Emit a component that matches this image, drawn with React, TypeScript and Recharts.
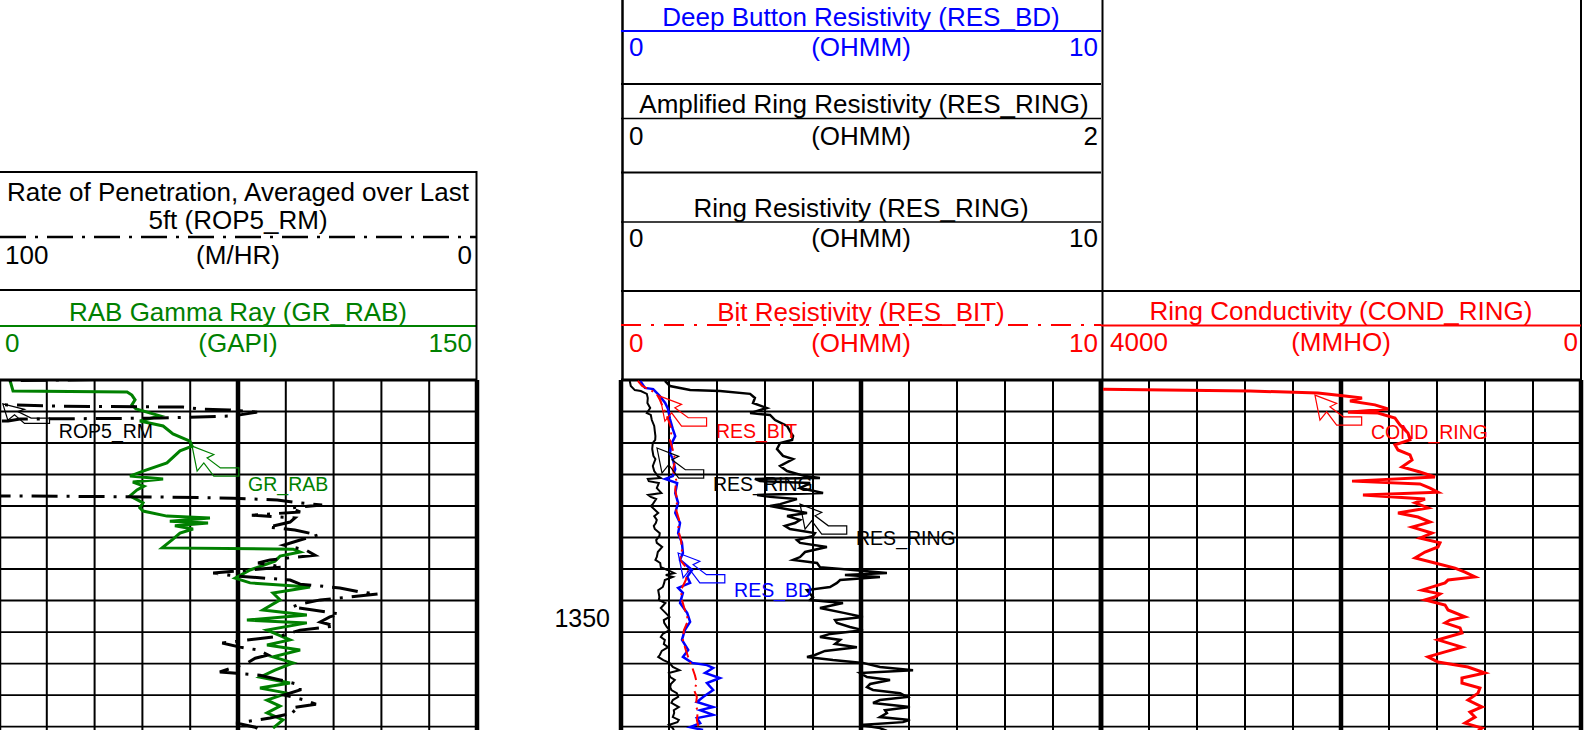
import React from "react";
import { ScatterChart, Scatter, XAxis, YAxis, ReferenceLine, ReferenceDot } from "recharts";

const FONT = "'Liberation Sans', Arial, Helvetica, sans-serif";

// depth window (m) shown in the plot, grid every metre
const DEPTH_TOP = 1343;
const DEPTH_BOTTOM = 1354.11;
const depthGrid = [1343, 1344, 1345, 1346, 1347, 1348, 1349, 1350, 1351, 1352, 1353, 1354];
const depthLabels = [1350];
const gridDivisions = [0, 1, 2, 3, 4, 5, 6, 7, 8, 9, 10];

// [depth, value]
const grRab: [number, number][] = [
  [1343.03, 3.5], [1343.35, 4.4], [1343.38, 40.2], [1343.48, 41.7], [1343.63, 42.7], [1343.79, 41.7],
  [1343.92, 43.0], [1344.14, 50.5], [1344.3, 44.2], [1344.46, 51.5], [1344.71, 54.6], [1344.94, 59.9],
  [1345.1, 60.6], [1345.25, 56.8], [1345.63, 52.7], [1345.89, 45.2], [1346.05, 41.1], [1346.14, 51.5],
  [1346.24, 42.0], [1346.37, 45.5], [1346.49, 43.3], [1346.68, 41.1], [1346.9, 45.2], [1347.06, 44.2],
  [1347.16, 45.2], [1347.32, 52.7], [1347.38, 66.2], [1347.48, 53.6], [1347.54, 65.6], [1347.63, 55.2],
  [1347.73, 60.9], [1347.86, 56.8], [1348.05, 54.6], [1348.33, 51.2], [1348.37, 92.3], [1348.46, 94.5],
  [1348.59, 88.2], [1348.75, 86.6], [1349.03, 78.8], [1349.29, 74.1], [1349.44, 78.8], [1349.57, 97.6],
  [1349.76, 86.0], [1349.98, 88.2], [1350.3, 82.8], [1350.46, 96.6], [1350.62, 77.8], [1350.71, 96.6],
  [1350.94, 84.1], [1351.25, 91.3], [1351.41, 84.1], [1351.57, 94.5], [1351.79, 86.0], [1351.98, 92.3],
  [1352.21, 86.6], [1352.43, 81.9], [1352.62, 91.3], [1352.78, 81.9], [1352.94, 90.4], [1353.16, 84.1],
  [1353.35, 88.2], [1353.57, 84.1], [1353.79, 89.1], [1354.05, 86.0],
];

const rop5Rm: [number, number][] = [
  [1342.95, 60.5], [1343.02, 98.0], [1343.05, 140], [1343.74, 140], [1343.79, 98.3], [1343.83, 87.2],
  [1343.86, 61.5], [1343.92, 58.0], [1343.95, 51.7], [1344.02, 46.0], [1344.14, 51.0], [1344.21, 66.3],
  [1344.24, 95.6], [1344.3, 98.1], [1344.33, 140], [1346.65, 140], [1346.68, 98.3], [1346.71, 68.4],
  [1346.75, 51.0], [1346.81, 41.8], [1346.9, 37.0], [1346.97, 32.4], [1347.06, 39.1], [1347.19, 37.0],
  [1347.29, 47.1], [1347.38, 38.1], [1347.51, 39.1], [1347.67, 43.7], [1347.76, 38.1], [1347.92, 33.3],
  [1348.08, 37.0], [1348.24, 40.4], [1348.4, 35.8], [1348.56, 33.9], [1348.71, 43.3], [1348.81, 45.8],
  [1348.94, 40.6], [1349.13, 55.2], [1349.22, 50.6], [1349.35, 39.1], [1349.48, 37.0], [1349.6, 28.7],
  [1349.73, 24.5], [1349.79, 20.7], [1349.89, 26.6], [1349.98, 32.8], [1350.11, 37.0], [1350.21, 38.7],
  [1350.3, 34.3], [1350.43, 28.7], [1350.52, 30.8], [1350.68, 32.8], [1350.81, 29.7], [1350.94, 37.0],
  [1351.13, 41.2], [1351.35, 53.3], [1351.48, 49.6], [1351.57, 45.8], [1351.73, 43.7], [1351.83, 46.4],
  [1352.02, 48.5], [1352.14, 51.3], [1352.27, 53.8], [1352.37, 45.4], [1352.52, 41.2], [1352.68, 37.0],
  [1352.84, 37.0], [1353.0, 40.4], [1353.16, 36.0], [1353.29, 33.7], [1353.41, 39.1], [1353.56, 38.1],
  [1353.73, 43.3], [1353.89, 50.4], [1354.02, 46.4], [1354.11, 45.4],
];

const resBd: [number, number][] = [
  [1343.03, 0.4], [1343.25, 0.5], [1343.29, 0.67], [1343.51, 0.81], [1343.73, 0.92], [1343.92, 0.98],
  [1344.24, 1.02], [1344.56, 1.08], [1344.78, 1.13], [1345.0, 1.06], [1345.32, 1.02], [1345.51, 1.08],
  [1345.83, 1.13], [1346.05, 1.08], [1346.14, 0.92], [1346.27, 1.17], [1346.59, 1.13], [1346.9, 1.19],
  [1347.22, 1.13], [1347.54, 1.23], [1347.86, 1.19], [1348.17, 1.27], [1348.49, 1.29], [1348.71, 1.23],
  [1349.03, 1.48], [1349.25, 1.38], [1349.44, 1.44], [1349.6, 1.19], [1349.76, 1.29], [1350.08, 1.23],
  [1350.4, 1.38], [1350.68, 1.44], [1350.94, 1.33], [1351.25, 1.27], [1351.57, 1.4], [1351.79, 1.29],
  [1351.98, 1.48], [1352.05, 1.79], [1352.14, 1.92], [1352.3, 1.75], [1352.46, 2.06], [1352.62, 1.79],
  [1352.84, 1.92], [1353.06, 1.71], [1353.22, 1.58], [1353.38, 1.92], [1353.48, 1.65], [1353.63, 1.92],
  [1353.73, 1.58], [1353.89, 1.65], [1354.02, 1.44], [1354.11, 1.71],
];

const resBit: [number, number][] = [
  [1343.03, 0.35], [1343.19, 0.44], [1343.41, 0.73], [1343.63, 0.81], [1343.95, 0.9], [1344.24, 0.98],
  [1344.59, 1.06], [1344.9, 1.02], [1345.22, 1.08], [1345.54, 1.13], [1345.86, 1.08], [1346.17, 1.15],
  [1346.49, 1.13], [1346.81, 1.17], [1347.13, 1.15], [1347.44, 1.21], [1347.76, 1.19], [1348.08, 1.25],
  [1348.4, 1.27], [1348.71, 1.23], [1349.03, 1.4], [1349.35, 1.35], [1349.67, 1.25], [1349.98, 1.27],
  [1350.3, 1.33], [1350.62, 1.4], [1350.94, 1.31], [1351.25, 1.29], [1351.57, 1.35], [1351.89, 1.42],
  [1352.11, 1.48], [1352.37, 1.54], [1352.62, 1.58], [1352.84, 1.52], [1353.06, 1.58], [1353.32, 1.56],
  [1353.54, 1.6], [1353.79, 1.58], [1354.11, 1.63],
];

const resRing: [number, number][] = [
  [1343.03, 0.183], [1343.19, 0.204], [1343.32, 0.288], [1343.35, 0.413], [1343.44, 0.538], [1343.57, 0.558],
  [1343.73, 0.55], [1343.89, 0.608], [1344.05, 0.538], [1344.11, 0.621], [1344.27, 0.642], [1344.46, 0.692],
  [1344.62, 0.704], [1344.78, 0.717], [1344.9, 0.713], [1345.0, 0.663], [1345.19, 0.65], [1345.41, 0.675],
  [1345.51, 0.717], [1345.73, 0.663], [1345.89, 0.692], [1346.05, 0.767], [1346.11, 0.829], [1346.14, 0.558],
  [1346.21, 0.579], [1346.27, 0.788], [1346.43, 0.746], [1346.59, 0.842], [1346.65, 0.567], [1346.71, 0.621],
  [1346.78, 0.733], [1346.94, 0.663], [1347.0, 0.621], [1347.22, 0.775], [1347.32, 0.692], [1347.44, 0.746],
  [1347.54, 0.725], [1347.63, 0.683], [1347.73, 0.704], [1347.86, 0.808], [1347.95, 0.8], [1348.08, 0.733],
  [1348.17, 0.746], [1348.3, 0.858], [1348.46, 0.767], [1348.62, 0.746], [1348.71, 0.717], [1348.81, 0.817],
  [1348.94, 0.829], [1349.03, 0.967], [1349.13, 1.108], [1349.19, 0.933], [1349.25, 1.079], [1349.35, 0.913],
  [1349.44, 0.9], [1349.57, 0.871], [1349.67, 0.775], [1349.89, 0.8], [1349.98, 0.788], [1350.08, 0.925],
  [1350.24, 0.829], [1350.4, 0.933], [1350.52, 1.008], [1350.62, 0.892], [1350.71, 0.9], [1350.84, 0.954],
  [1350.94, 1.008], [1351.06, 0.871], [1351.16, 0.829], [1351.25, 0.913], [1351.38, 0.892], [1351.48, 0.983],
  [1351.6, 0.85], [1351.73, 0.808], [1351.79, 0.775], [1351.89, 0.883], [1351.98, 1.008], [1352.11, 1.079],
  [1352.21, 1.217], [1352.3, 0.996], [1352.43, 1.025], [1352.52, 1.121], [1352.65, 1.038], [1352.75, 1.025],
  [1352.84, 1.05], [1352.94, 1.163], [1353.06, 1.192], [1353.16, 1.079], [1353.25, 1.05], [1353.38, 1.204],
  [1353.48, 1.1], [1353.57, 1.108], [1353.7, 1.079], [1353.79, 1.204], [1353.86, 1.175], [1353.95, 0.996],
  [1354.05, 1.079], [1354.14, 1.108],
];

const condRing: [number, number][] = [
  [1343.29, 3983], [1343.35, 2758], [1343.41, 2192], [1343.51, 1967], [1343.57, 1825], [1343.67, 1925],
  [1343.79, 1717], [1343.92, 1608], [1344.02, 1942], [1344.05, 1692], [1344.21, 1550], [1344.43, 1508],
  [1344.68, 1442], [1344.9, 1425], [1345.06, 1550], [1345.22, 1525], [1345.38, 1425], [1345.54, 1408],
  [1345.76, 1492], [1345.92, 1342], [1346.08, 1217], [1346.21, 1908], [1346.3, 1342], [1346.43, 1258],
  [1346.56, 1192], [1346.65, 1817], [1346.78, 1300], [1346.9, 1383], [1347.06, 1275], [1347.22, 1525],
  [1347.35, 1358], [1347.51, 1258], [1347.67, 1408], [1347.86, 1242], [1348.02, 1342], [1348.17, 1175],
  [1348.3, 1192], [1348.46, 1300], [1348.65, 1383], [1348.81, 1217], [1348.97, 1050], [1349.1, 967],
  [1349.25, 883], [1349.35, 1108], [1349.44, 1133], [1349.67, 1325], [1349.79, 1175], [1349.89, 1217],
  [1349.98, 1300], [1350.14, 1133], [1350.3, 1108], [1350.52, 967], [1350.62, 1092], [1350.71, 1133],
  [1350.87, 1008], [1351.03, 992], [1351.25, 1192], [1351.48, 992], [1351.63, 1133], [1351.79, 1275],
  [1351.95, 1192], [1352.11, 942], [1352.3, 800], [1352.46, 992], [1352.62, 992], [1352.78, 842],
  [1352.94, 858], [1353.16, 942], [1353.38, 825], [1353.54, 925], [1353.7, 883], [1353.89, 967],
  [1354.05, 825], [1354.14, 858],
];

const GRID_TOP = 380;
const PAGE_H = 730;
const PAD = 3;
const DEPTH_TRACK_W = 144;

type Curve = {
  id: string;
  data: [number, number][];
  domain: [number, number];
  reversed?: boolean;
  color: string;
  width: number;
  dash?: string;
};

type Callout = { curve: string; depth: number; value: number; label: string; color: string; textDy: number; squash: number };

function calloutShape(label: string, color: string, textDy: number, squash: number) {
  return (p: any) => {
    const { cx, cy } = p;
    const pts = [
      [0, 0], [21.7, 8.3], [15, 11.7], [28.3, 21.7], [46.7, 21.7], [46.7, 30], [21.7, 30], [11.7, 16.7], [5, 25],
    ]
      .map(([a, b]) => `${cx + a},${cy + b * squash}`)
      .join(" ");
    return (
      <g>
        <polygon points={pts} fill="none" stroke={color} strokeWidth={1.2} />
        <text x={cx + 56} y={cy + textDy} dy="0.36em" fill={color} fontSize={19.5} fontFamily={FONT}>
          {label}
        </text>
      </g>
    );
  };
}

const DepthTick = (p: any) => (
  <text x={p.x} y={p.y + 17} dy="0.36em" textAnchor="end" fontSize={25} fontFamily={FONT} fill="#000">
    {p.payload.value}
  </text>
);

function Track({
  left,
  width,
  curves,
  callouts,
  depthAxis = false,
}: {
  left: number;
  width: number;
  curves: Curve[];
  callouts: Callout[];
  depthAxis?: boolean;
}) {
  const extra = depthAxis ? DEPTH_TRACK_W : 0;
  const base = curves[0];
  const span = base.domain[1] - base.domain[0];
  return (
    <div style={{ position: "absolute", left: left - PAD - extra, top: GRID_TOP - PAD }}>
      <ScatterChart
        width={width + PAD * 2 + extra}
        height={PAGE_H - GRID_TOP + PAD}
        margin={{ top: PAD, right: PAD, bottom: 0, left: PAD }}
      >
        {curves.map((c) => (
          <XAxis
            key={c.id}
            xAxisId={c.id}
            type="number"
            dataKey="v"
            domain={c.domain}
            reversed={c.reversed}
            allowDataOverflow
            hide
          />
        ))}
        <YAxis
          type="number"
          dataKey="d"
          domain={[DEPTH_TOP, DEPTH_BOTTOM]}
          reversed
          allowDataOverflow
          hide={!depthAxis}
          width={extra}
          ticks={depthLabels}
          tickLine={false}
          axisLine={false}
          tickSize={6}
          tickMargin={5}
          tick={DepthTick}
        />
        {depthGrid.map((d) => (
          <ReferenceLine
            key={"h" + d}
            xAxisId={base.id}
            y={d}
            stroke="#000"
            strokeWidth={d === DEPTH_TOP ? 3 : 1.8}
          />
        ))}
        {gridDivisions.map((g) => (
          <ReferenceLine
            key={"v" + g}
            xAxisId={base.id}
            x={base.domain[0] + (span * g) / 10}
            stroke="#000"
            strokeWidth={g % 5 === 0 ? 4.5 : 2}
          />
        ))}
        {curves.map((c) => (
          <Scatter
            key={c.id}
            xAxisId={c.id}
            data={c.data.map(([d, v]) => ({ d, v }))}
            fill={c.color}
            line={{ stroke: c.color, strokeWidth: c.width, strokeDasharray: c.dash }}
            lineType="joint"
            shape={() => <g />}
            isAnimationActive={false}
          />
        ))}
        {callouts.map((k) => (
          <ReferenceDot
            key={k.label + k.depth}
            xAxisId={k.curve}
            x={k.value}
            y={k.depth}
            r={0}
            ifOverflow="visible"
            shape={calloutShape(k.label, k.color, k.textDy, k.squash)}
          />
        ))}
      </ScatterChart>
    </div>
  );
}

function T({ x, y, anchor = "middle", color = "#000", children }: any) {
  return (
    <text x={x} y={y} dy="0.36em" textAnchor={anchor} fill={color} fontSize={26}>
      {children}
    </text>
  );
}

function Header() {
  const L = { l: 0, r: 477, c: 238 };
  const M = { l: 621, r: 1101, c: 861 };
  const R = { l: 1101, r: 1581, c: 1341 };
  return (
    <svg width={1587} height={382} style={{ position: "absolute", left: 0, top: 0 }} fontFamily={FONT}>
      {/* left track */}
      <line x1={L.l} x2={L.r} y1={172} y2={172} stroke="#000" strokeWidth={2} />
      <T x={L.c} y={192}>Rate of Penetration, Averaged over Last</T>
      <T x={L.c} y={220}>5ft (ROP5_RM)</T>
      <line x1={L.l} x2={L.r} y1={237} y2={237} stroke="#000" strokeWidth={2.5} strokeDasharray="26 9 3 9" />
      <T x={5} y={255} anchor="start">100</T>
      <T x={L.c} y={255}>(M/HR)</T>
      <T x={472} y={255} anchor="end">0</T>
      <line x1={L.l} x2={L.r} y1={290} y2={290} stroke="#000" strokeWidth={2} />
      <T x={L.c} y={311.5} color="#008000">RAB Gamma Ray (GR_RAB)</T>
      <line x1={L.l} x2={L.r} y1={326} y2={326} stroke="#008000" strokeWidth={2} />
      <T x={5} y={343} anchor="start" color="#008000">0</T>
      <T x={L.c} y={343} color="#008000">(GAPI)</T>
      <T x={472} y={343} anchor="end" color="#008000">150</T>
      <line x1={476.5} x2={476.5} y1={171} y2={381} stroke="#000" strokeWidth={2} />

      {/* middle track */}
      <line x1={622.5} x2={622.5} y1={0} y2={381} stroke="#000" strokeWidth={2.5} />
      <T x={M.c} y={17} color="#0000ff">Deep Button Resistivity (RES_BD)</T>
      <line x1={M.l} x2={M.r} y1={31} y2={31} stroke="#0000ff" strokeWidth={2} />
      <T x={629} y={47} anchor="start" color="#0000ff">0</T>
      <T x={M.c} y={47} color="#0000ff">(OHMM)</T>
      <T x={1098} y={47} anchor="end" color="#0000ff">10</T>
      <line x1={M.l} x2={M.r} y1={84} y2={84} stroke="#000" strokeWidth={2} />
      <T x={M.c + 3} y={104}>Amplified Ring Resistivity (RES_RING)</T>
      <line x1={M.l} x2={M.r} y1={118.5} y2={118.5} stroke="#000" strokeWidth={1.5} />
      <T x={629} y={136} anchor="start">0</T>
      <T x={M.c} y={136}>(OHMM)</T>
      <T x={1098} y={136} anchor="end">2</T>
      <line x1={M.l} x2={M.r} y1={172.5} y2={172.5} stroke="#000" strokeWidth={2} />
      <T x={M.c} y={208}>Ring Resistivity (RES_RING)</T>
      <line x1={M.l} x2={M.r} y1={222} y2={222} stroke="#000" strokeWidth={1.5} />
      <T x={629} y={238} anchor="start">0</T>
      <T x={M.c} y={238}>(OHMM)</T>
      <T x={1098} y={238} anchor="end">10</T>
      <line x1={M.l} x2={M.r} y1={291} y2={291} stroke="#000" strokeWidth={2} />
      <T x={M.c} y={311.5} color="#ff0000">Bit Resistivity (RES_BIT)</T>
      <line x1={M.l} x2={M.r} y1={325} y2={325} stroke="#ff0000" strokeWidth={2} strokeDasharray="20 10 3 10" />
      <T x={629} y={343} anchor="start" color="#ff0000">0</T>
      <T x={M.c} y={343} color="#ff0000">(OHMM)</T>
      <T x={1098} y={343} anchor="end" color="#ff0000">10</T>

      {/* right track */}
      <line x1={1102.5} x2={1102.5} y1={0} y2={381} stroke="#000" strokeWidth={2} />
      <line x1={1581} x2={1581} y1={0} y2={381} stroke="#000" strokeWidth={2} />
      <line x1={R.l} x2={R.r} y1={291} y2={291} stroke="#000" strokeWidth={2} />
      <T x={R.c} y={310.5} color="#ff0000">Ring Conductivity (COND_RING)</T>
      <line x1={R.l} x2={R.r} y1={325.5} y2={325.5} stroke="#ff0000" strokeWidth={2} />
      <T x={1110} y={342} anchor="start" color="#ff0000">4000</T>
      <T x={R.c} y={342} color="#ff0000">(MMHO)</T>
      <T x={1578} y={342} anchor="end" color="#ff0000">0</T>
    </svg>
  );
}

export default function App() {
  const leftCurves: Curve[] = [
    { id: "gr", data: grRab, domain: [0, 150], color: "#008000", width: 3 },
    { id: "rop", data: rop5Rm, domain: [0, 100], reversed: true, color: "#000", width: 3, dash: "26 9 3 9" },
  ];
  const midCurves: Curve[] = [
    { id: "ring10", data: resRing, domain: [0, 10], color: "#000", width: 2 },
    { id: "ring2", data: resRing, domain: [0, 2], color: "#000", width: 2.5 },
    { id: "bd", data: resBd, domain: [0, 10], color: "#0000ff", width: 2.5 },
    { id: "bit", data: resBit, domain: [0, 10], color: "#ff0000", width: 2, dash: "12 5 2 5" },
  ];
  const rightCurves: Curve[] = [
    { id: "cond", data: condRing, domain: [0, 4000], reversed: true, color: "#ff0000", width: 3 },
  ];
  const leftCallouts: Callout[] = [
    { curve: "rop", depth: 1343.76, value: 99.2, label: "ROP5_RM", color: "#000", textDy: 27, squash: 0.65 },
    { curve: "gr", depth: 1345.1, value: 60.6, label: "GR_RAB", color: "#008000", textDy: 38, squash: 1 },
  ];
  const midCallouts: Callout[] = [
    { curve: "bit", depth: 1343.51, value: 0.81, label: "RES_BIT", color: "#ff0000", textDy: 35, squash: 1 },
    { curve: "ring10", depth: 1345.16, value: 0.75, label: "RES_RING", color: "#000", textDy: 36, squash: 1 },
    { curve: "ring2", depth: 1346.94, value: 0.746, label: "RES_RING", color: "#000", textDy: 34, squash: 1 },
    { curve: "bd", depth: 1348.49, value: 1.19, label: "RES_BD", color: "#0000ff", textDy: 37, squash: 1 },
  ];
  const rightCallouts: Callout[] = [
    { curve: "cond", depth: 1343.48, value: 2217, label: "COND_RING", color: "#ff0000", textDy: 37, squash: 1 },
  ];

  return (
    <div
      style={{
        position: "absolute",
        left: 0,
        top: 0,
        width: 1587,
        height: PAGE_H,
        overflow: "hidden",
        background: "#fff",
        fontFamily: FONT,
      }}
    >
      <Header />
      <Track left={-1} width={478} curves={leftCurves} callouts={leftCallouts} />
      <Track left={621} width={480} curves={midCurves} callouts={midCallouts} depthAxis />
      <Track left={1101} width={480} curves={rightCurves} callouts={rightCallouts} />
    </div>
  );
}
